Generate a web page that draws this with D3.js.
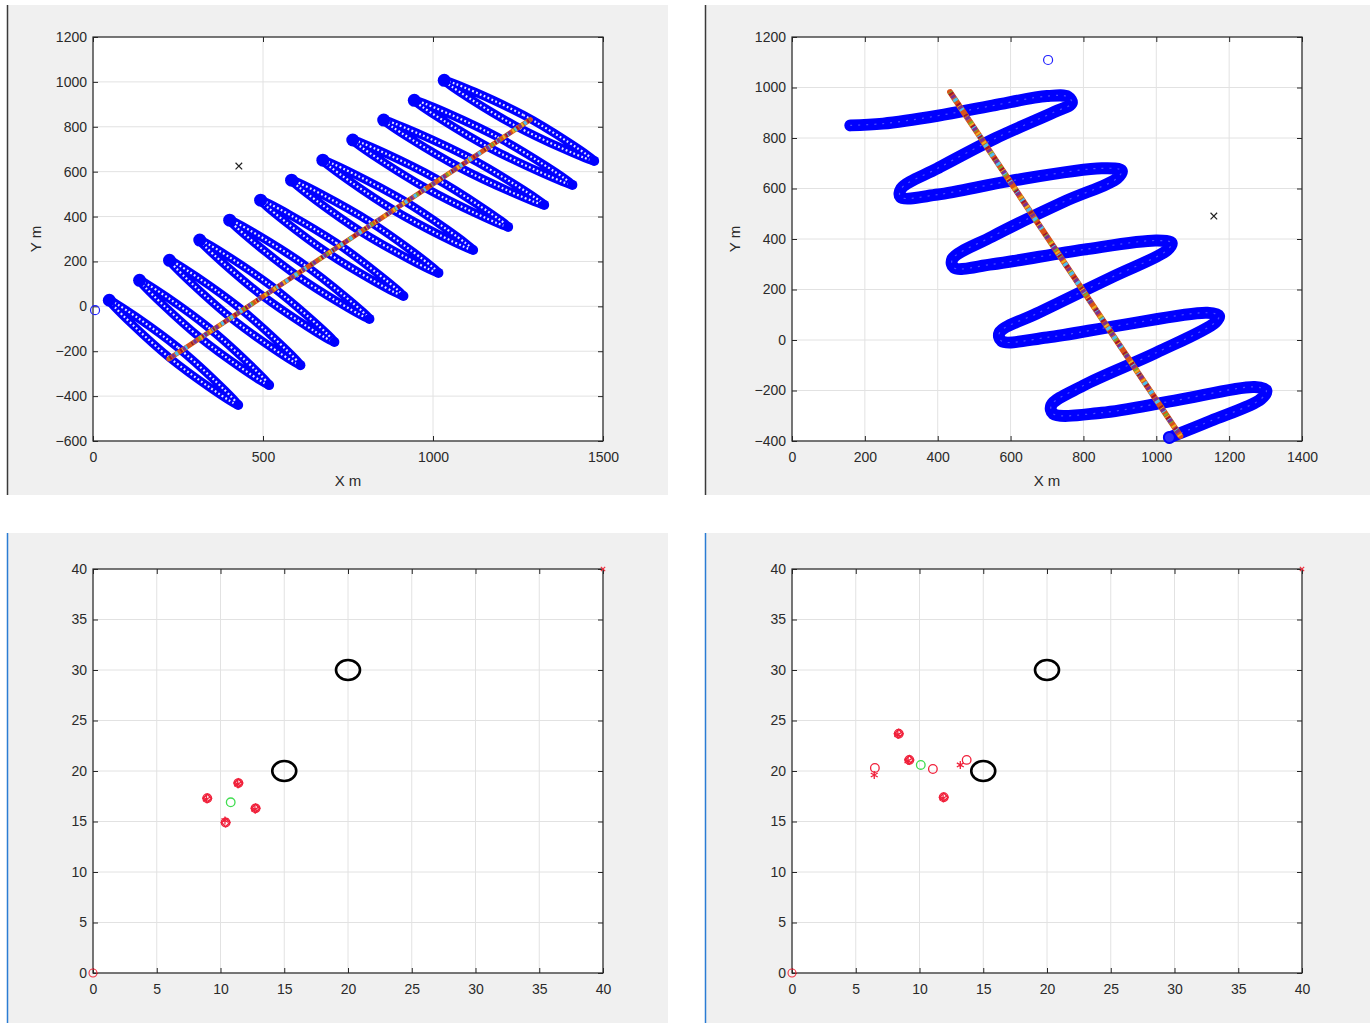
<!DOCTYPE html>
<html>
<head>
<meta charset="utf-8">
<script src="https://cdn.jsdelivr.net/npm/d3@7"></script>
<style>
  body { margin: 0; background: #fff; }
  text { font-family: "Liberation Sans", Arial, Helvetica, sans-serif; }
</style>
</head>
<body>
<div id="chart"></div>
<script>
// ---- Data ----

// Top-left: 12 narrow scan loops, each [upper tip, side, lower tip, other side] in metres
var scanLoops = [
  [[48, 27], [250, -184], [427, -440], [226, -230]],
  [[137, 116], [340, -95], [518, -351], [316, -141]],
  [[225, 205], [430, -6], [610, -262], [406, -52]],
  [[314, 295], [524, 91], [710, -159], [500, 45]],
  [[402, 384], [620, 187], [813, -56], [596, 141]],
  [[493, 473], [715, 283], [913, 46], [691, 237]],
  [[584, 562], [812, 379], [1016, 149], [788, 333]],
  [[676, 651], [909, 475], [1118, 251], [885, 428]],
  [[764, 741], [1005, 572], [1221, 354], [981, 525]],
  [[855, 830], [1103, 665], [1327, 452], [1079, 618]],
  [[945, 918], [1190, 754], [1410, 541], [1166, 707]],
  [[1033, 1007], [1266, 852], [1474, 648], [1242, 805]]
];
var track1X = [223, 1286];
var track1Y = [-234, 832];
var start1 = [6, -17];
var goal1 = [429, 625];

// Top-right: zigzag trajectory
var zigzagX = [160, 250, 400, 550, 700, 758, 768, 720, 560, 400, 300, 298, 400, 600, 850, 905, 892,
  750, 550, 440, 445, 550, 800, 1000, 1042, 1030, 880, 680, 570, 575, 700, 900, 1140, 1172, 1162,
  1000, 800, 712, 717, 850, 1050, 1270, 1302, 1287, 1150, 1036];
var zigzagY = [850, 857, 888, 928, 966, 963, 938, 903, 800, 680, 600, 566, 576, 630, 680, 671, 640,
  550, 410, 320, 286, 300, 358, 394, 385, 356, 250, 110, 30, -4, 10, 58, 108, 96, 70,
  -50, -180, -258, -292, -288, -240, -186, -200, -234, -320, -386];
var track2X = [434, 1066];
var track2Y = [982, -380];
var start2 = [703, 1109];
var goal2 = [1158, 491];

// Bottom: obstacle circles (same in both) and agent markers
var obstacleX = [20, 15];
var obstacleY = [30, 20];
var cornerMark = [40, 40];
var originMark = [0, 0];

var redCircles3 = [[8.96, 17.3], [11.4, 18.8], [12.75, 16.3], [10.4, 14.9]];
var redStars3 = [[8.9, 17.2], [11.35, 18.7], [12.7, 16.2], [10.35, 15.1]];
var green3 = [10.8, 16.9];

var redCircles4 = [[8.37, 23.7], [9.2, 21.1], [6.5, 20.3], [11.05, 20.2], [11.9, 17.4], [13.7, 21.1]];
var redStars4 = [[8.3, 23.6], [9.1, 21.0], [6.45, 19.6], [11.85, 17.3], [13.2, 20.6]];
var redDense4 = [[8.37, 23.7], [9.2, 21.1], [11.9, 17.4]];
var green4 = [10.1, 20.6];

var ticks1X = [0, 500, 1000, 1500];
var ticks1Y = [-600, -400, -200, 0, 200, 400, 600, 800, 1000, 1200];
var ticks2X = [0, 200, 400, 600, 800, 1000, 1200, 1400];
var ticks2Y = [-400, -200, 0, 200, 400, 600, 800, 1000, 1200];
var ticksSmall = [0, 5, 10, 15, 20, 25, 30, 35, 40];

var trackColors = ["#D95319", "#77AC30", "#4DBEEE", "#EDB120", "#7E2F8E", "#A2142F"];

// ---- Layout ----
var svg = d3.select("#chart").append("svg")
  .attr("width", 1370).attr("height", 1023);

svg.append("rect").attr("width", 1370).attr("height", 1023).attr("fill", "#fff");

var panels = [
  { bg: [7, 5, 661, 490], edge: "#3a3a3a", box: [93, 37, 510, 404],
    xDomain: [0, 1500], yDomain: [-600, 1200], xTicks: ticks1X, yTicks: ticks1Y, labels: true },
  { bg: [705, 5, 665, 490], edge: "#3a3a3a", box: [792, 37, 510, 404],
    xDomain: [0, 1400], yDomain: [-400, 1200], xTicks: ticks2X, yTicks: ticks2Y, labels: true },
  { bg: [7, 533, 661, 490], edge: "#2b7cd3", box: [93, 569, 510, 404],
    xDomain: [0, 40], yDomain: [0, 40], xTicks: ticksSmall, yTicks: ticksSmall, labels: false },
  { bg: [705, 533, 665, 490], edge: "#2b7cd3", box: [792, 569, 510, 404],
    xDomain: [0, 40], yDomain: [0, 40], xTicks: ticksSmall, yTicks: ticksSmall, labels: false }
];

var fmt = d3.format("d");

function makePanel(p) {
  var g = svg.append("g");
  g.append("rect")
    .attr("x", p.bg[0]).attr("y", p.bg[1])
    .attr("width", p.bg[2]).attr("height", p.bg[3])
    .attr("fill", "#f0f0f0");
  g.append("line")
    .attr("x1", p.bg[0] + 0.5).attr("x2", p.bg[0] + 0.5)
    .attr("y1", p.bg[1]).attr("y2", p.bg[1] + p.bg[3])
    .attr("stroke", p.edge).attr("stroke-width", 1.5);

  var left = p.box[0], top = p.box[1], w = p.box[2], h = p.box[3];
  var x = d3.scaleLinear().domain(p.xDomain).range([left, left + w]);
  var y = d3.scaleLinear().domain(p.yDomain).range([top + h, top]);

  g.append("rect").attr("x", left).attr("y", top).attr("width", w).attr("height", h).attr("fill", "#fff");

  // grid
  g.append("g").selectAll("line").data(p.xTicks).enter().append("line")
    .attr("x1", d => x(d)).attr("x2", d => x(d)).attr("y1", top).attr("y2", top + h)
    .attr("stroke", "#e2e2e2").attr("stroke-width", 1);
  g.append("g").selectAll("line").data(p.yTicks).enter().append("line")
    .attr("y1", d => y(d)).attr("y2", d => y(d)).attr("x1", left).attr("x2", left + w)
    .attr("stroke", "#e2e2e2").attr("stroke-width", 1);

  var axes = [
    g.append("g").attr("transform", `translate(0,${top + h})`)
      .call(d3.axisBottom(x).tickValues(p.xTicks).tickFormat(fmt).tickSizeInner(-5).tickSizeOuter(0).tickPadding(11)),
    g.append("g").attr("transform", `translate(0,${top})`)
      .call(d3.axisTop(x).tickValues(p.xTicks).tickSizeInner(-5).tickSizeOuter(0).tickFormat("")),
    g.append("g").attr("transform", `translate(${left},0)`)
      .call(d3.axisLeft(y).tickValues(p.yTicks).tickFormat(fmt).tickSizeInner(-5).tickSizeOuter(0).tickPadding(6)),
    g.append("g").attr("transform", `translate(${left + w},0)`)
      .call(d3.axisRight(y).tickValues(p.yTicks).tickSizeInner(-5).tickSizeOuter(0).tickFormat(""))
  ];
  axes.forEach(function(a) {
    a.select(".domain").remove();
    a.attr("color", "#262626").attr("font-size", 14)
      .attr("font-family", '"Liberation Sans", Arial, Helvetica, sans-serif');
    a.selectAll("text").attr("fill", "#2a2a2a");
  });

  g.append("rect").attr("x", left).attr("y", top).attr("width", w).attr("height", h)
    .attr("fill", "none").attr("stroke", "#262626").attr("stroke-width", 1.2);

  if (p.labels) {
    g.append("text").attr("x", left + w / 2).attr("y", top + h + 45)
      .attr("text-anchor", "middle").attr("font-size", 15).attr("fill", "#2a2a2a").text("X m");
    g.append("text")
      .attr("transform", `translate(${left - 52},${top + h / 2}) rotate(-90)`)
      .attr("text-anchor", "middle").attr("font-size", 15).attr("fill", "#2a2a2a").text("Y m");
  }

  var plot = g.append("g");
  return { x: x, y: y, g: plot };
}

function drawTrack(pl, xs, ys, width) {
  var pts = xs.map((d, i) => [pl.x(d), pl.y(ys[i])]);
  var line = d3.line();
  pl.g.append("path").attr("d", line(pts)).attr("stroke", trackColors[0])
    .attr("stroke-width", width).attr("fill", "none").attr("stroke-linecap", "round");
  trackColors.slice(1).forEach(function(c, i) {
    pl.g.append("path").attr("d", line(pts)).attr("stroke", c)
      .attr("stroke-width", width - 1).attr("fill", "none")
      .attr("stroke-dasharray", `${2 + (i % 2)} ${7 + i}`)
      .attr("stroke-dashoffset", i * 3);
  });
}

function xMark(pl, pt, color, size) {
  pl.g.append("path")
    .attr("d", d3.symbol().type(d3.symbolTimes).size(size)())
    .attr("transform", `translate(${pl.x(pt[0])},${pl.y(pt[1])})`)
    .attr("fill", "none").attr("stroke", color).attr("stroke-width", 1.2);
}

// ---- Panel 1 ----
var p1 = makePanel(panels[0]);
var loopLine = d3.line().x(d => p1.x(d[0])).y(d => p1.y(d[1])).curve(d3.curveCardinalClosed.tension(0));

p1.g.selectAll(".band").data(scanLoops).enter().append("path")
  .attr("d", loopLine).attr("fill", "none").attr("stroke", "#0000ff").attr("stroke-width", 8.5);
p1.g.selectAll(".holes").data(scanLoops).enter().append("path")
  .attr("d", loopLine).attr("fill", "none").attr("stroke", "#fff").attr("stroke-width", 2.2)
  .attr("stroke-dasharray", "1.8 2.4").attr("opacity", 0.9);
p1.g.selectAll(".tipA").data(scanLoops).enter().append("circle")
  .attr("cx", d => p1.x(d[0][0])).attr("cy", d => p1.y(d[0][1])).attr("r", 6.5).attr("fill", "#0000ff");
p1.g.selectAll(".tipB").data(scanLoops).enter().append("circle")
  .attr("cx", d => p1.x(d[2][0])).attr("cy", d => p1.y(d[2][1])).attr("r", 5).attr("fill", "#0000ff");

drawTrack(p1, track1X, track1Y, 5);
p1.g.append("circle").attr("cx", p1.x(start1[0])).attr("cy", p1.y(start1[1])).attr("r", 4.5)
  .attr("fill", "none").attr("stroke", "#2020ff").attr("stroke-width", 1.2);
xMark(p1, goal1, "#222", 30);

// ---- Panel 2 ----
var p2 = makePanel(panels[1]);
var zigLine = d3.line().x(d => p2.x(d[0])).y(d => p2.y(d[1])).curve(d3.curveCatmullRom.alpha(0.5));
var zigPts = zigzagX.map((d, i) => [d, zigzagY[i]]);
p2.g.append("path").attr("d", zigLine(zigPts)).attr("fill", "none").attr("stroke", "#0000ff")
  .attr("stroke-width", 12).attr("stroke-linecap", "round").attr("stroke-linejoin", "round");
p2.g.append("path").attr("d", zigLine(zigPts)).attr("fill", "none").attr("stroke", "#fff")
  .attr("stroke-width", 1.2).attr("stroke-dasharray", "2 6").attr("opacity", 0.3);
p2.g.append("circle").attr("cx", p2.x(zigzagX[zigzagX.length - 1])).attr("cy", p2.y(zigzagY[zigzagY.length - 1]))
  .attr("r", 5.5).attr("fill", "#2a2aff").attr("stroke", "#0000ff").attr("stroke-width", 2);

drawTrack(p2, track2X, track2Y, 6);
p2.g.append("circle").attr("cx", p2.x(start2[0])).attr("cy", p2.y(start2[1])).attr("r", 4.5)
  .attr("fill", "none").attr("stroke", "#2020ff").attr("stroke-width", 1.2);
xMark(p2, goal2, "#222", 30);

// ---- Panels 3 and 4 ----
function drawAgents(pl, circles, stars, dense, green) {
  pl.g.selectAll(".obst").data(obstacleX).enter().append("ellipse")
    .attr("cx", d => pl.x(d)).attr("cy", (d, i) => pl.y(obstacleY[i]))
    .attr("rx", 12).attr("ry", 10).attr("fill", "none").attr("stroke", "#000").attr("stroke-width", 2.6);

  pl.g.selectAll(".dense").data(dense).enter().append("path")
    .attr("d", d3.symbol().type(d3.symbolDiamond2).size(45)())
    .attr("transform", d => `translate(${pl.x(d[0])},${pl.y(d[1])})`)
    .attr("fill", "none").attr("stroke", "#f0203a").attr("stroke-width", 1.6);
  pl.g.selectAll(".rc").data(circles).enter().append("circle")
    .attr("cx", d => pl.x(d[0])).attr("cy", d => pl.y(d[1])).attr("r", 4.3)
    .attr("fill", "none").attr("stroke", "#f0203a").attr("stroke-width", 1.3);
  pl.g.selectAll(".rs").data(stars).enter().append("path")
    .attr("d", d3.symbol().type(d3.symbolAsterisk).size(45)())
    .attr("transform", d => `translate(${pl.x(d[0])},${pl.y(d[1])})`)
    .attr("fill", "none").attr("stroke", "#f0203a").attr("stroke-width", 1.3);

  pl.g.append("circle").attr("cx", pl.x(green[0])).attr("cy", pl.y(green[1])).attr("r", 4.3)
    .attr("fill", "none").attr("stroke", "#40dd50").attr("stroke-width", 1.3);
  pl.g.append("circle").attr("cx", pl.x(originMark[0])).attr("cy", pl.y(originMark[1])).attr("r", 4)
    .attr("fill", "none").attr("stroke", "#f03040").attr("stroke-width", 1.1);
  xMark(pl, cornerMark, "#f03040", 14);
}

var p3 = makePanel(panels[2]);
drawAgents(p3, redCircles3, redStars3, redCircles3, green3);

var p4 = makePanel(panels[3]);
drawAgents(p4, redCircles4, redStars4, redDense4, green4);
</script>
</body>
</html>
